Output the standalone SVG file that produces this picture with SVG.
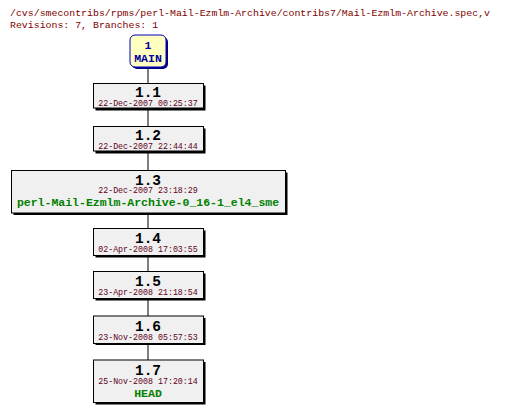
<svg xmlns="http://www.w3.org/2000/svg" width="506" height="413" viewBox="0 0 506 413">
<style>
.hdr{font-family:"Liberation Mono","DejaVu Sans Mono",monospace;font-size:9.9px;fill:#800000}
.box{fill:#f0f0f0;stroke:#000;stroke-width:1}
.sh{fill:#000}
.rev{font-family:"Liberation Mono","DejaVu Sans Mono",monospace;font-size:14.5px;font-weight:bold;fill:#000;text-anchor:middle}
.date{font-family:"Liberation Mono","DejaVu Sans Mono",monospace;font-size:8.3px;fill:#600020;text-anchor:middle}
.tag{font-family:"Liberation Mono","DejaVu Sans Mono",monospace;font-size:11.5px;font-weight:bold;fill:#008000;text-anchor:middle}
.main{font-family:"Liberation Mono","DejaVu Sans Mono",monospace;font-size:11.5px;font-weight:bold;fill:#0000a0;text-anchor:middle}
.ln{stroke:#000;stroke-width:1;fill:none}
</style>
<rect width="506" height="413" fill="#fff"/>
<text class="hdr" x="10" y="16">/cvs/smecontribs/rpms/perl-Mail-Ezmlm-Archive/contribs7/Mail-Ezmlm-Archive.spec,v</text>
<text class="hdr" x="10" y="28">Revisions: 7, Branches: 1</text>
<g id="connectors">
<line class="ln" x1="148" y1="67" x2="148" y2="83"/>
<line class="ln" x1="148" y1="108" x2="148" y2="126"/>
<line class="ln" x1="148" y1="151" x2="148" y2="170"/>
<line class="ln" x1="148" y1="213" x2="148" y2="229"/>
<line class="ln" x1="148" y1="256" x2="148" y2="272"/>
<line class="ln" x1="148" y1="299" x2="148" y2="316"/>
<line class="ln" x1="148" y1="344" x2="148" y2="360"/>
</g>
<g id="MAIN">
<rect x="132" y="37" width="36" height="32" rx="5" fill="#000080"/>
<rect x="130" y="35" width="36" height="32" rx="5" fill="#ffffc0" stroke="#0000c0"/>
<text class="main" x="148" y="49">1</text>
<text class="main" x="148" y="62">MAIN</text>
</g>
<g id="r1.1">
<rect class="sh" x="95.5" y="85.5" width="110" height="25"/>
<rect class="box" x="93.5" y="83.5" width="110" height="24.5"/>
<text class="rev" x="148" y="97">1.1</text>
<text class="date" x="148" y="106">22-Dec-2007 00:25:37</text>
</g>
<g id="r1.2">
<rect class="sh" x="95.5" y="128.5" width="110" height="25"/>
<rect class="box" x="93.5" y="126.5" width="110" height="24.5"/>
<text class="rev" x="148" y="140">1.2</text>
<text class="date" x="148" y="149">22-Dec-2007 22:44:44</text>
</g>
<g id="r1.3">
<rect class="sh" x="13.5" y="172.5" width="274" height="42.5"/>
<rect class="box" x="11.5" y="170.5" width="274" height="42.5"/>
<text class="rev" x="148" y="185">1.3</text>
<text class="date" x="148" y="193">22-Dec-2007 23:18:29</text>
<text class="tag" x="148" y="206">perl-Mail-Ezmlm-Archive-0_16-1_el4_sme</text>
</g>
<g id="r1.4">
<rect class="sh" x="95.5" y="230.5" width="110" height="27"/>
<rect class="box" x="93.5" y="228.5" width="110" height="27"/>
<text class="rev" x="148" y="243">1.4</text>
<text class="date" x="148" y="252">02-Apr-2008 17:03:55</text>
</g>
<g id="r1.5">
<rect class="sh" x="95.5" y="273.5" width="110" height="27"/>
<rect class="box" x="93.5" y="271.5" width="110" height="27"/>
<text class="rev" x="148" y="286">1.5</text>
<text class="date" x="148" y="295">23-Apr-2008 21:18:54</text>
</g>
<g id="r1.6">
<rect class="sh" x="95.5" y="318" width="110" height="27"/>
<rect class="box" x="93.5" y="316" width="110" height="27.5"/>
<text class="rev" x="148" y="330.5">1.6</text>
<text class="date" x="148" y="339.5">23-Nov-2008 05:57:53</text>
</g>
<g id="r1.7">
<rect class="sh" x="95.5" y="362" width="110" height="42.5"/>
<rect class="box" x="93.5" y="360" width="110" height="42.5"/>
<text class="rev" x="148" y="375">1.7</text>
<text class="date" x="148" y="384">25-Nov-2008 17:20:14</text>
<text class="tag" x="148" y="396.5">HEAD</text>
</g>
</svg>
